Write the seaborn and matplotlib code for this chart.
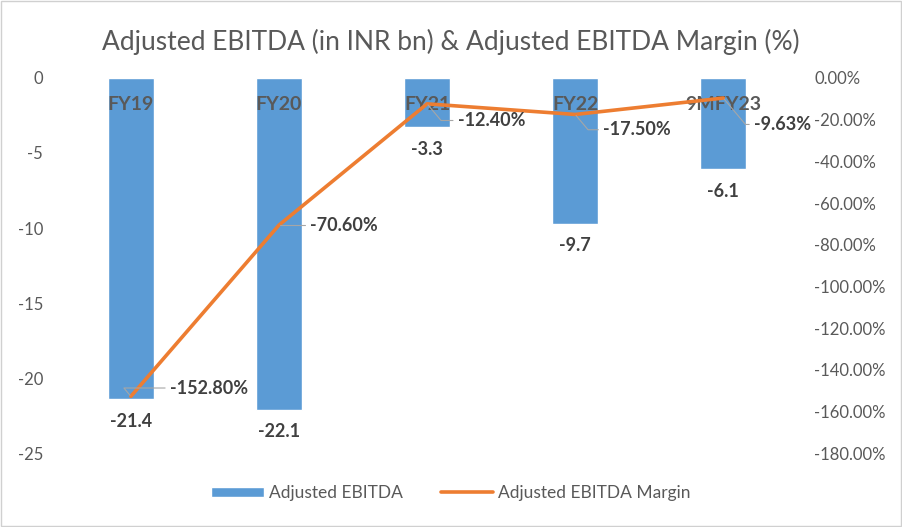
import numpy as np
import pandas as pd
import matplotlib.pyplot as plt
from matplotlib.patches import Rectangle
import seaborn as sns

# Data
periods = ["FY19", "FY20", "FY21", "FY22", "9MFY23"]
ebitda = [-21.4, -22.1, -3.3, -9.7, -6.1]
margin = [-152.80, -70.60, -12.40, -17.50, -9.63]
left_ticks = [0, -5, -10, -15, -20, -25]
right_ticks = [0, -20, -40, -60, -80, -100, -120, -140, -160, -180]

# label offsets (points) for margin labels
margin_offsets = [(28, 6), (22, 0), (22, -12), (20, -11), (22, -19)]

sns.set_style("white")
plt.rcParams['font.family'] = ['Lato', 'DejaVu Sans']

blue = "#5B9BD5"
orange = "#ED7D31"
grey = "#595959"

df = pd.DataFrame({"period": periods, "ebitda": ebitda, "margin": margin})

fig = plt.figure(figsize=(9.02, 5.27), dpi=100)
ax = fig.add_axes([0.063, 0.1404, 0.821, 0.7116])

sns.barplot(data=df, x="period", y="ebitda", color=blue, width=0.31,
            saturation=1, ax=ax, label="Adjusted EBITDA")
ax.get_legend().remove()
ax.set_axisbelow(False)
ax.set_ylim(-25, 0)
ax.set_xlim(-0.5, len(periods) - 0.5)
ax.set_yticks(left_ticks)
ax.set_yticklabels([str(t) for t in left_ticks])
ax.set_xlabel("")
ax.set_ylabel("")
ax.xaxis.tick_top()
ax.tick_params(axis="x", length=0, pad=-25, labelsize=14, labelcolor=grey)
for lbl in ax.get_xticklabels():
    lbl.set_fontweight("bold")
ax.tick_params(axis="y", length=0, pad=10, labelsize=12, labelcolor=grey)
for s in ax.spines.values():
    s.set_visible(False)

ax.bar_label(ax.containers[0], labels=[f"{v:.1f}" for v in ebitda], padding=10,
             fontsize=13, fontweight="bold", color="#404040")

ax2 = ax.twinx()
sns.lineplot(x=np.arange(len(periods)), y=margin, color=orange, linewidth=2.6,
             ax=ax2, label="Adjusted EBITDA Margin")
ax2.set_ylim(-180, 0)
ax2.set_yticks(right_ticks)
ax2.set_yticklabels([f"{t:.2f}%" for t in right_ticks])
ax2.tick_params(axis="y", length=0, pad=12, labelsize=12, labelcolor=grey)
for s in ax2.spines.values():
    s.set_visible(False)
ax2.get_legend().remove()

for i, (m, off) in enumerate(zip(margin, margin_offsets)):
    ax2.annotate(f"{m:.2f}%", xy=(i, m), xytext=off, textcoords="offset points",
                 ha="left", va="center", fontsize=13, fontweight="bold",
                 color="#404040",
                 arrowprops=dict(arrowstyle="-", color="#a6a6a6", lw=0.8,
                                 shrinkA=1, shrinkB=1,
                                 connectionstyle="angle,angleA=0,angleB=-50,rad=0"))

h1, l1 = ax.get_legend_handles_labels()
h2, l2 = ax2.get_legend_handles_labels()
fig.legend(h1 + h2, l1 + l2, loc="center", bbox_to_anchor=(0.5, 0.065), ncol=2,
           frameon=False, fontsize=12.5, labelcolor=grey, handlelength=3,
           handleheight=0.5, columnspacing=2.2, handletextpad=0.3)

fig.suptitle("Adjusted EBITDA (in INR bn) & Adjusted EBITDA Margin (%)",
             y=0.945, fontsize=19, color=grey)

fig.patches.append(Rectangle((0.001, 0.001), 0.998, 0.998, transform=fig.transFigure,
                             fill=False, edgecolor="#d0d0d0", linewidth=1))

fig.savefig("out.png", dpi=100)
